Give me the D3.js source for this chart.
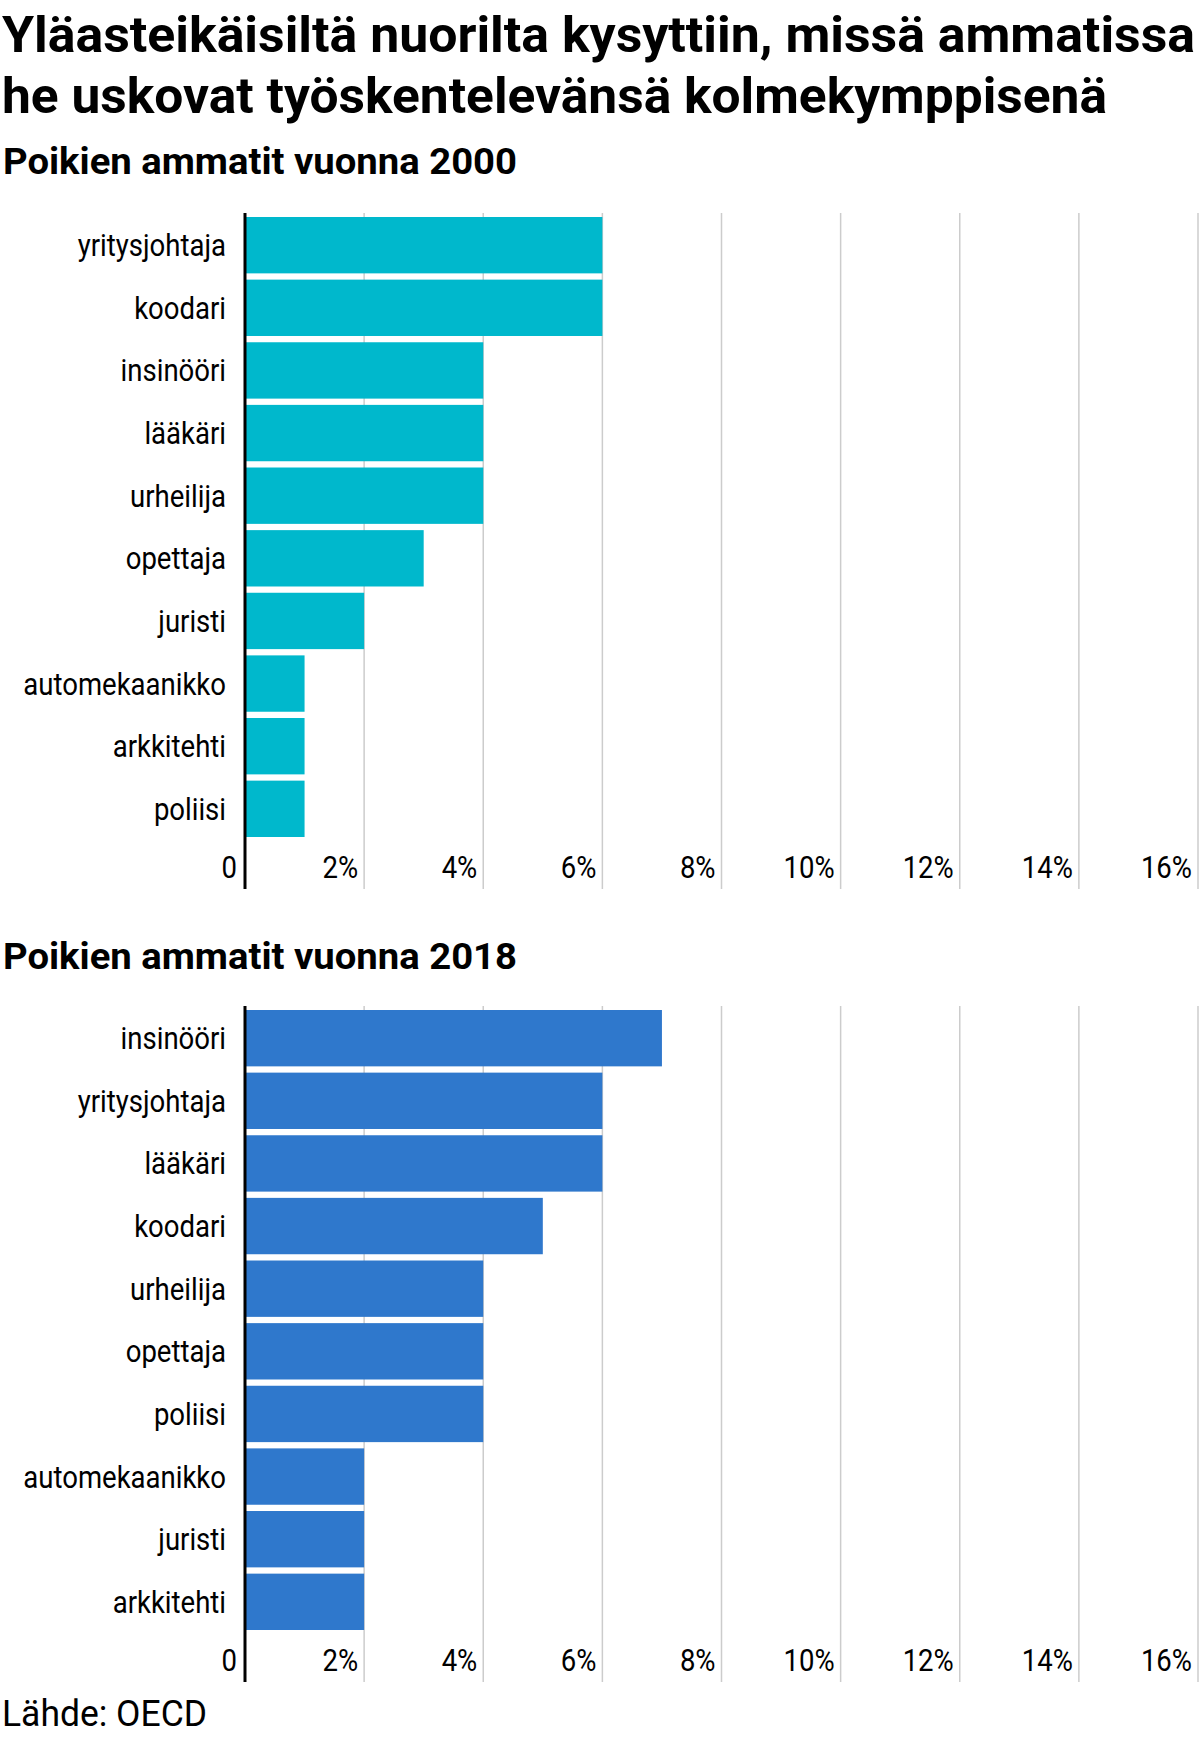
<!DOCTYPE html>
<html><head><meta charset="utf-8">
<script src="https://cdn.jsdelivr.net/npm/d3@7"></script>
<style>body{margin:0;background:#fff}text{font-family:Roboto,sans-serif}</style>
</head><body>
<svg id="c" width="1199" height="1741"></svg>
<script>
const cats2000=["yritysjohtaja","koodari","insinööri","lääkäri","urheilija","opettaja","juristi","automekaanikko","arkkitehti","poliisi"];
const vals2000=[6,6,4,4,4,3,2,1,1,1];
const cats2018=["insinööri","yritysjohtaja","lääkäri","koodari","urheilija","opettaja","poliisi","automekaanikko","juristi","arkkitehti"];
const vals2018=[7,6,6,5,4,4,4,2,2,2];
const ticks=[0,2,4,6,8,10,12,14,16];
const svg=d3.select("#c");
const cond=(sel,len)=>sel.attr("textLength",len).attr("lengthAdjust","spacingAndGlyphs");
svg.append("text").attr("x",2).attr("y",52).attr("font-size",50).attr("font-weight",700).text("Yläasteikäisiltä nuorilta kysyttiin, missä ammatissa").call(cond,1193);
svg.append("text").attr("x",2).attr("y",113).attr("font-size",50).attr("font-weight",700).text("he uskovat työskentelevänsä kolmekymppisenä").call(cond,1105);
svg.append("text").attr("x",2).attr("y",1726).attr("font-size",36).text("Lähde: OECD").call(cond,205);
const x=d3.scaleLinear().domain([0,16]).range([245,1198]);
function panel(title,ty,cats,vals,color,top,bottom){
  svg.append("text").attr("x",3).attr("y",ty).attr("font-size",36).attr("font-weight",700).text(title).call(cond,514);
  const y=d3.scaleBand().domain(cats).range([top+4,top+4+620]).paddingInner(0.1).paddingOuter(0);
  const g=svg.append("g");
  g.selectAll("line.g").data(ticks.slice(1)).join("line").attr("x1",d=>x(d)).attr("x2",d=>x(d)).attr("y1",top).attr("y2",bottom).attr("stroke","#ccc").attr("stroke-width",1.5);
  g.selectAll("rect").data(vals).join("rect").attr("x",x(0)).attr("y",(d,i)=>y(cats[i])).attr("width",d=>x(d)-x(0)).attr("height",y.bandwidth()).attr("fill",color);
  g.selectAll("text.c").data(cats).join("text").attr("x",226).attr("y",d=>y(d)+y.bandwidth()/2+11).attr("text-anchor","end").attr("font-size",32).text(d=>d).each(function(){const w=this.getComputedTextLength();d3.select(this).attr("textLength",w*0.86).attr("lengthAdjust","spacingAndGlyphs");});
  g.selectAll("text.t").data(ticks).join("text").attr("x",d=>d===0?x(0)-8:x(d)-6).attr("y",bottom-11).attr("text-anchor","end").attr("font-size",32).text(d=>d===0?"0":d+"%").each(function(){const w=this.getComputedTextLength();d3.select(this).attr("textLength",w*0.86).attr("lengthAdjust","spacingAndGlyphs");});
  g.append("line").attr("x1",x(0)).attr("x2",x(0)).attr("y1",top).attr("y2",bottom).attr("stroke","#000").attr("stroke-width",3);
}
panel("Poikien ammatit vuonna 2000",174,cats2000,vals2000,"#00b8cc",213,889);
panel("Poikien ammatit vuonna 2018",969,cats2018,vals2018,"#2f78cc",1006,1682);
</script></body></html>
